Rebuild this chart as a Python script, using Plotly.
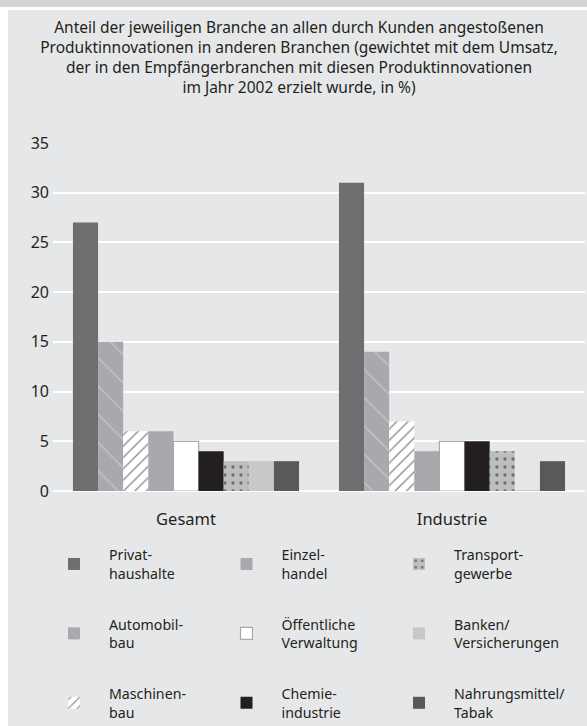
import plotly.graph_objects as go

# ---------------- data ----------------
groups = ["Gesamt", "Industrie"]

branch_labels = [
    "Privat-<br>haushalte",
    "Automobil-<br>bau",
    "Maschinen-<br>bau",
    "Einzel-<br>handel",
    "Öffentliche<br>Verwaltung",
    "Chemie-<br>industrie",
    "Transport-<br>gewerbe",
    "Banken/<br>Versicherungen",
    "Nahrungsmittel/<br>Tabak",
]

privathaushalte = [27, 31]
automobilbau = [15, 14]
maschinenbau = [6, 7]
einzelhandel = [6, 4]
oeffentliche_verwaltung = [5, 5]
chemieindustrie = [4, 5]
transportgewerbe = [3, 4]
banken_versicherungen = [3, 0.1]
nahrungsmittel_tabak = [3, 3]

series_values = [
    privathaushalte, automobilbau, maschinenbau, einzelhandel,
    oeffentliche_verwaltung, chemieindustrie, transportgewerbe,
    banken_versicherungen, nahrungsmittel_tabak,
]

y_tick_values = [0, 5, 10, 15, 20, 25, 30, 35]

title_text = ("Anteil der jeweiligen Branche an allen durch Kunden angestoßenen<br>"
              "Produktinnovationen in anderen Branchen (gewichtet mit dem Umsatz,<br>"
              "der in den Empfängerbranchen mit diesen Produktinnovationen<br>"
              "im Jahr 2002 erzielt wurde, in %)")

# ---------------- styles ----------------
W, H = 587, 726
FONT = "Noto Sans"
TXT = "#231f20"
PANEL = "#e6e7e8"

styles = [
    dict(color="#6d6e70"),
    dict(color="#a7a9ac", pattern=dict(shape="\\", fgcolor="#d6d7d9", size=20, solidity=0.08)),
    dict(color="#ffffff", pattern=dict(shape="/", fgcolor="#231f20", size=8, solidity=0.18)),
    dict(color="#a7a9ac"),
    dict(color="#ffffff", line=dict(color="#a7a9ac", width=1.2)),
    dict(color="#231f20"),
    dict(color="#bcbec0", pattern=dict(shape=".", fgcolor="#231f20", size=8, solidity=0.15)),
    dict(color="#c7c8ca"),
    dict(color="#58595b"),
]

legend_names = ["legend", "legend", "legend", "legend2", "legend2", "legend2",
                "legend3", "legend3", "legend3"]

fig = go.Figure()
for i, (name, vals, st) in enumerate(zip(branch_labels, series_values, styles)):
    marker = dict(color=st["color"], line=st.get("line", dict(width=0)))
    if "pattern" in st:
        marker["pattern"] = st["pattern"]
    fig.add_trace(go.Bar(
        x=groups, y=vals, name=name, marker=marker,
        legend=legend_names[i], legendgroup=name,
    ))

leg_common = dict(
    xref="container", yref="container", xanchor="left", yanchor="top",
    orientation="v", bgcolor="rgba(0,0,0,0)", borderwidth=0,
    font=dict(family=FONT, size=14.2, color=TXT),
    itemwidth=60, tracegroupgap=29.5, traceorder="grouped",
)
col_px = [74.5 - 35.5, 247 - 35.5, 419.5 - 35.5]
top_px = 539

fig.update_layout(
    width=W, height=H,
    paper_bgcolor="#ffffff", plot_bgcolor="rgba(0,0,0,0)",
    margin=dict(l=53, r=2, t=143, b=235, autoexpand=False),
    barmode="group", bargap=0.15, bargroupgap=0,
    font=dict(family=FONT, size=15, color=TXT),
    title=dict(text=title_text, xref="container", yref="container",
               x=299 / W, xanchor="center", y=1 - 33 / H, yanchor="top",
               font=dict(family=FONT, size=15.5, color=TXT)),
    xaxis=dict(range=[-0.5, 1.5], showgrid=False, zeroline=False, showline=False,
               ticks="", tickfont=dict(size=16.5, color=TXT), ticklabelstandoff=16),
    yaxis=dict(range=[0, 35], tickvals=y_tick_values, showgrid=True,
               gridcolor="#ffffff", gridwidth=2, zeroline=True, zerolinecolor="#ffffff",
               zerolinewidth=2, showline=False, ticks="",
               tickfont=dict(size=16, color=TXT), ticklabelstandoff=3),
    legend=dict(x=col_px[0] / W, y=1 - top_px / H, **leg_common),
    legend2=dict(x=col_px[1] / W, y=1 - top_px / H, **leg_common),
    legend3=dict(x=col_px[2] / W, y=1 - top_px / H, **leg_common),
    shapes=[
        dict(type="rect", xref="paper", yref="paper", layer="below",
             x0=(8 - 53) / 532, x1=(587 - 53) / 532 + 0.01,
             y0=-235 / 348 - 0.01, y1=(726 - 10 - 235) / 348,
             fillcolor=PANEL, line=dict(width=0)),
        dict(type="rect", xref="paper", yref="paper", layer="below",
             x0=-53 / 532 - 0.01, x1=(587 - 53) / 532 + 0.01,
             y0=(726 - 7 - 235) / 348, y1=(726 - 235) / 348 + 0.01,
             fillcolor="#d1d3d4", line=dict(width=0)),
    ],
)

fig.write_html("out.html", config={"displayModeBar": False},
               post_script="document.body.style.margin='0';")
